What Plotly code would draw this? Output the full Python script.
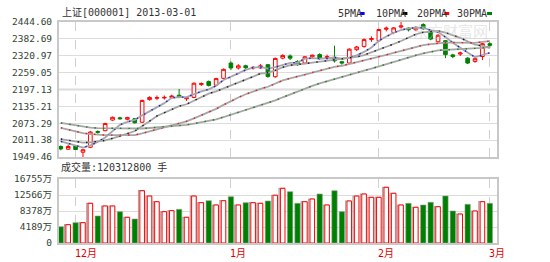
import plotly.graph_objects as go
import pandas as pd

# ---------------- data ----------------
dates = ["11-29", "11-30", "12-03", "12-04", "12-05", "12-06", "12-07", "12-10", "12-11", "12-12",
         "12-13", "12-14", "12-17", "12-18", "12-19", "12-20", "12-21", "12-24", "12-25", "12-26",
         "12-27", "12-28", "12-31", "01-04", "01-07", "01-08", "01-09", "01-10", "01-11", "01-14",
         "01-15", "01-16", "01-17", "01-18", "01-21", "01-22", "01-23", "01-24", "01-25", "01-28",
         "01-29", "01-30", "01-31", "02-01", "02-04", "02-05", "02-06", "02-07", "02-08", "02-18",
         "02-19", "02-20", "02-21", "02-22", "02-25", "02-26", "02-27", "02-28", "03-01"]

opens = [1988, 1978, 1990, 1967, 1985, 2043, 2046, 2085, 2093, 2088,
         2090, 2077, 2160, 2165, 2166, 2168, 2176, 2163, 2168, 2215,
         2226, 2213, 2238, 2294, 2276, 2284, 2276, 2276, 2288, 2244,
         2312, 2320, 2300, 2294, 2317, 2325, 2311, 2315, 2299, 2294,
         2343, 2355, 2380, 2376, 2418, 2406, 2426, 2422, 2416, 2435,
         2412, 2372, 2376, 2324, 2327, 2312, 2300, 2318, 2365]
highs = [1992, 1995, 1993, 1980, 2045, 2047, 2075, 2098, 2097, 2097,
         2092, 2160, 2172, 2175, 2175, 2178, 2199, 2170, 2223, 2223,
         2230, 2240, 2274, 2300, 2290, 2288, 2283, 2290, 2290, 2314,
         2326, 2326, 2304, 2320, 2325, 2330, 2325, 2358, 2302, 2348,
         2357, 2384, 2392, 2420, 2428, 2426, 2444.60, 2426, 2430, 2440,
         2415, 2400, 2378, 2328, 2336, 2316, 2315, 2368, 2370]
lows = [1974, 1975, 1975, 1949.46, 1982, 2035, 2044, 2082, 2086, 2084,
        2072, 2075, 2156, 2158, 2160, 2163, 2165, 2155, 2165, 2210,
        2208, 2210, 2236, 2268, 2270, 2270, 2270, 2273, 2240, 2240,
        2308, 2305, 2283, 2290, 2310, 2305, 2306, 2296, 2288, 2290,
        2338, 2350, 2372, 2372, 2410, 2400, 2420, 2410, 2412, 2416,
        2378, 2368, 2312, 2312, 2320, 2290, 2295, 2305, 2350]
closes = [1979, 1988, 1977, 1976, 2041, 2040, 2072, 2095, 2090, 2094,
          2075, 2157, 2168, 2167, 2168, 2173, 2170, 2167, 2220, 2219,
          2212, 2237, 2271, 2276, 2284, 2277, 2278, 2284, 2245, 2311,
          2322, 2312, 2288, 2317, 2323, 2312, 2318, 2302, 2294, 2345,
          2353, 2380, 2384, 2417, 2422, 2423, 2430, 2416, 2425, 2420,
          2382, 2396, 2325, 2318, 2331, 2294, 2310, 2365, 2359]
# closes of the 29 sessions before the first bar (needed for the moving averages)
prior_closes = [2128, 2133, 2115, 2114, 2101, 2080, 2090, 2095, 2110, 2130,
                2117, 2113, 2106, 2105, 2095, 2090, 2100, 2088, 2080, 2085,
                2030, 2025, 2020, 2025, 2018, 2027, 2018, 2010, 2001]
# volume in 万手
volumes = [4270, 4790, 5320, 5320, 10390, 7070, 9690, 9690, 8200, 6730,
           6280, 13690, 12300, 10810, 8200, 8460, 8820, 6730, 12300, 10550,
           11070, 9950, 11070, 12120, 9950, 10550, 10550, 10390, 11000, 12500,
           14320, 13430, 10390, 10810, 11520, 12830, 9950, 13690, 8200, 11000,
           12300, 12830, 11960, 11960, 14580, 13010, 9950, 10390, 9350, 9950,
           10660, 9500, 12300, 8380, 7590, 10130, 8380, 10810, 10390]

price_ticks = [1949.46, 2011.38, 2073.29, 2135.21, 2197.13, 2259.05, 2320.97, 2382.69, 2444.60]
price_tick_text = ["1949.46", "2011.38", "2073.29", "2135.21", "2197.13", "2259.05", "2320.97", "2382.69", "2444.60"]
vol_ticks = [0, 4189, 8378, 12566, 16755]
vol_tick_text = ["0", "4189万", "8378万", "12566万", "16755万"]
month_pos = [2, 23, 43, 58]
month_labels = ["12月", "1月", "2月", "3月"]
ma_periods = [5, 10, 20, 30]
ma_names = ["5PMA", "10PMA", "20PMA", "30PMA"]
ma_colors = ["#0000ff", "#000000", "#ff0000", "#008000"]

# ---------------- figure ----------------
idx = list(range(len(closes)))
allc = pd.Series(prior_closes + closes, dtype=float)
npre = len(prior_closes)

W, H = 550, 262
L, R, T, B = 57, 53, 22, 19
PW, PH = W - L - R, H - T - B


def px_x(px):
    return (px - L) / PW


def px_y(py):
    return (H - B - py) / PH


fig = go.Figure()

# moving averages: grey line with sparse coloured dots
for n, name, col in zip(ma_periods, ma_names, ma_colors):
    ma = allc.rolling(n).mean().iloc[npre:].tolist()
    fig.add_trace(go.Scatter(x=idx, y=ma, mode="lines", line=dict(color="#a6a6a6", width=1.8),
                             xaxis="x", yaxis="y", hoverinfo="skip", name=name))
    fig.add_trace(go.Scatter(x=idx, y=ma, mode="lines", line=dict(color=col, width=1.4, dash="1.5px,7px"),
                             xaxis="x", yaxis="y", hoverinfo="skip", name=name, opacity=0.85))

# candles
fig.add_trace(go.Candlestick(
    x=idx, open=opens, high=highs, low=lows, close=closes,
    increasing=dict(line=dict(color="#ff0000", width=1), fillcolor="#ffffff"),
    decreasing=dict(line=dict(color="#008000", width=1), fillcolor="#008000"),
    whiskerwidth=0, xaxis="x", yaxis="y", name="上证"))

# volume
up = [c >= o for o, c in zip(opens, closes)]
up_x = [i for i in idx if up[i]]
up_v = [volumes[i] for i in idx if up[i]]
dn_x = [i for i in idx if not up[i]]
dn_v = [volumes[i] for i in idx if not up[i]]
fig.add_trace(go.Bar(x=[i - 0.13 for i in up_x], y=up_v, width=0.72, marker=dict(color="rgba(0,0,0,0)",
                     line=dict(color="#a8a8a8", width=1.2)), xaxis="x2", yaxis="y2", hoverinfo="skip"))
fig.add_trace(go.Bar(x=up_x, y=up_v, width=0.62, marker=dict(color="#ffffff",
                     line=dict(color="#ff0000", width=1)), xaxis="x2", yaxis="y2"))
fig.add_trace(go.Bar(x=dn_x, y=dn_v, width=0.72, marker=dict(color="#008000",
                     line=dict(color="#8aa08a", width=0.6)), xaxis="x2", yaxis="y2"))

axis_font = dict(family="DejaVu Sans Mono, Noto Sans CJK SC", size=9.5, color="#334433")
xcommon = dict(range=[-0.24, 58.97], tickvals=month_pos, showticklabels=False, ticks="",
               showgrid=True, gridcolor="#d0d0d0", griddash="dash", gridwidth=1,
               zeroline=False, showline=True, mirror=True, linecolor="#c8c8c8", linewidth=2)

fig.update_layout(
    width=W, height=H, margin=dict(l=L, r=R, t=T, b=B),
    paper_bgcolor="#ffffff", plot_bgcolor="#ffffff", showlegend=False, barmode="overlay",
    xaxis=dict(domain=[0, 1], anchor="y", rangeslider=dict(visible=False), **xcommon),
    xaxis2=dict(domain=[0, 1], anchor="y2", matches="x", **xcommon),
    yaxis=dict(domain=[px_y(157), 1], range=[price_ticks[0], price_ticks[-1]], tickvals=price_ticks,
               ticktext=price_tick_text, tickfont=axis_font, ticks="", showgrid=True, gridcolor="#dcdcdc",
               zeroline=False, showline=True, mirror=True, linecolor="#c8c8c8", linewidth=2,
               ticklabelstandoff=3),
    yaxis2=dict(domain=[0, px_y(179)], range=[0, vol_ticks[-1]], tickvals=vol_ticks, ticktext=vol_tick_text,
                tickfont=axis_font, ticks="", showgrid=True, gridcolor="#dcdcdc", zeroline=False,
                showline=True, mirror=True, linecolor="#c8c8c8", linewidth=2, ticklabelstandoff=3),
)

# darker middle grid line of the price panel
fig.add_shape(type="line", xref="paper", yref="y", x0=0, x1=1, y0=price_ticks[4], y1=price_ticks[4],
              line=dict(color="#b4b4b4", width=1.5), layer="below")

text_font = dict(family="DejaVu Sans Mono, Noto Sans CJK SC", size=10, color="#333333")
ann = []
ann.append(dict(x=px_x(58), y=px_y(13), xref="paper", yref="paper", xanchor="left", yanchor="middle",
                text="上证[000001] 2013-03-01", showarrow=False, font=text_font))
ann.append(dict(x=px_x(57), y=px_y(166.5), xref="paper", yref="paper", xanchor="left", yanchor="middle",
                text="成交量:120312800 手", showarrow=False, font=text_font))
# watermark
ann.append(dict(x=px_x(450), y=px_y(31), xref="paper", yref="paper", xanchor="center", yanchor="middle",
                text="东方财富网", showarrow=False,
                font=dict(family="Noto Sans CJK SC", size=15, color="rgba(200,200,200,0.45)")))
# legend
leg_text_x = [335, 373, 415, 455]
leg_sq_x = [359, 402, 444, 487]
for tx, sx, name, col in zip(leg_text_x, leg_sq_x, ma_names, ma_colors):
    ann.append(dict(x=px_x(tx), y=px_y(13.5), xref="paper", yref="paper", xanchor="left", yanchor="middle",
                    text=name, showarrow=False, font=text_font))
    fig.add_shape(type="rect", xref="paper", yref="paper", x0=px_x(sx), x1=px_x(sx + 5),
                  y0=px_y(15), y1=px_y(12), fillcolor=col, line=dict(width=0))
# month labels
for p, lab in zip(month_pos, month_labels):
    ann.append(dict(x=p, y=px_y(253), xref="x2", yref="paper", xanchor="left", yanchor="middle",
                    xshift=-3, text=lab, showarrow=False,
                    font=dict(family="DejaVu Sans Mono, Noto Sans CJK SC", size=10, color="#dd0000")))
fig.update_layout(annotations=ann)

fig.write_html("out.html")
